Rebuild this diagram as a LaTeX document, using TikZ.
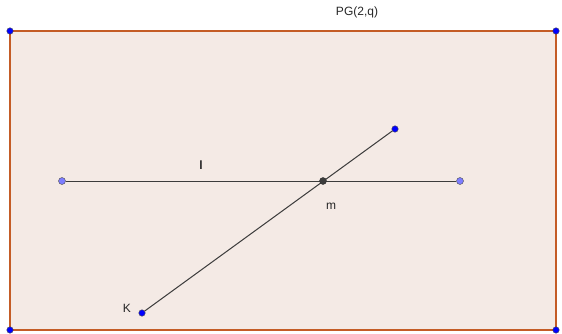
\documentclass[tikz,border=0pt]{standalone}
\usepackage{fontspec}
\setmainfont{Liberation Sans}
\usetikzlibrary{positioning}

\definecolor{planefill}{RGB}{244,234,229}
\definecolor{planeedge}{RGB}{196,92,38}
\definecolor{linegray}{RGB}{60,60,60}
\definecolor{ptblue}{RGB}{0,0,255}
\definecolor{ptlight}{RGB}{125,125,255}

\begin{document}
\begin{tikzpicture}[
        x=1pt, y=-1pt,
        font=\fontsize{12}{14}\selectfont,
        % Styles
        plane/.style={draw=planeedge, line width=1.5pt, fill=planefill},
        pline/.style={draw=linegray, line width=1pt},
        corner/.style={circle, draw=black!70, fill=ptblue, inner sep=0pt, minimum size=6.5pt},
        endpt/.style={circle, draw=black!70, fill=ptlight, inner sep=0pt, minimum size=7pt},
        meet/.style={circle, draw=black!80, fill=linegray, inner sep=0pt, minimum size=7pt},
        label/.style={inner sep=0pt, text=black!85}
    ]
    \useasboundingbox (0,0) rectangle (562,334);

    % ================= PLANE =================
    \coordinate (tl) at (10,31);
    \coordinate (tr) at (556,31);
    \coordinate (br) at (556,330);
    \coordinate (bl) at (10,330);
    \draw[plane] (tl) -- (tr) -- (br) -- (bl) -- cycle;

    % ================= LINES =================
    \node[endpt] (lA) at (62,181) {};
    \node[endpt] (lB) at (460,181) {};
    \node[corner] (K) at (142,313) {};
    \node[corner] (kTop) at (395,129) {};
    \draw[pline] (lA) -- (lB);
    \draw[pline] (K) -- (kTop);
    \node[meet] (m) at (323,181) {};

    % ================= CORNERS =================
    \node[corner] at (tl) {};
    \node[corner] at (tr) {};
    \node[corner] at (br) {};
    \node[corner] at (bl) {};

    % ================= LABELS =================
    \node[label] (title) at (357,12) {PG(2,q)};
    \node[label] (lName) at (201,165) {\textbf{l}};
    \node[label] (mName) at (331,206) {m};
    \node[label] (KName) at (127,308) {K};

\end{tikzpicture}
\end{document}
